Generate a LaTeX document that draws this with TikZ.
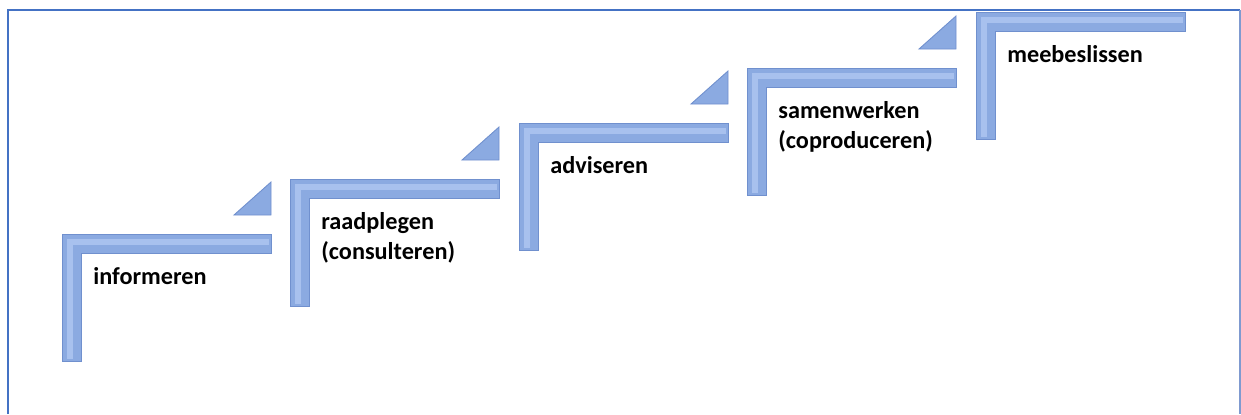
\documentclass[tikz,border=0pt]{standalone}
\usepackage{fontspec}
\setmainfont{Carlito}
\usetikzlibrary{positioning}
\definecolor{frameblue}{HTML}{4472C4}
\definecolor{frameside}{HTML}{7F9AD0}
\definecolor{stepedge}{HTML}{7090CE}
\definecolor{stepfill}{HTML}{8BAAE1}
\definecolor{steplight}{HTML}{A8C1EE}
\tikzset{bar/.style={fill=stepfill,draw=stepedge,line width=0.5pt,line join=miter}}
\tikzset{barlight/.style={draw=steplight,line width=3.6pt,line join=miter}}
\tikzset{stepname/.style={font=\bfseries\fontsize{13.8}{17}\selectfont,align=left,anchor=north west,inner sep=0pt}}
% one step of the stair, corner at (#1,#2)
\newcommand{\Stepl}[2]{%
  \path[bar] (#1,#2+127) -- (#1,#2) -- (#1+209,#2) -- (#1+209,#2+19) -- (#1+19,#2+19) -- (#1+19,#2+127) -- cycle;
  \draw[barlight] (#1+8,#2+125) -- (#1+8,#2+8) -- (#1+207,#2+8);
}
% small wedge above the end of a step
\newcommand{\Wedge}[2]{%
  \path[bar] (#1+209,#2-52) -- (#1+209,#2-19) -- (#1+172,#2-19) -- cycle;
}

\begin{document}
\begin{tikzpicture}[x=0.02cm,y=-0.02cm]
\useasboundingbox (0,0) rectangle (1241,414);
% frame
\draw[frameblue,line width=1.6pt] (8,414) -- (8,10) -- (1240,10);
\draw[frameside,line width=0.8pt] (1240,10) -- (1240,414);
%
\Stepl{62}{234}   \Wedge{62}{234}
\Stepl{290}{179}  \Wedge{290}{179}
\Stepl{519}{123}  \Wedge{519}{123}
\Stepl{747}{68}   \Wedge{747}{68}
\Stepl{976}{12}
%
\node (s1) [stepname] at (62+31,234+33) {informeren};
\node (s2) [stepname] at (290+31,179+33) {raadplegen\\(consulteren)};
\node (s3) [stepname] at (519+31,123+33) {adviseren};
\node (s4) [stepname] at (747+31,68+33) {samenwerken\\(coproduceren)};
\node (s5) [stepname] at (976+31,12+33) {meebeslissen};
%
\end{tikzpicture}
\end{document}
